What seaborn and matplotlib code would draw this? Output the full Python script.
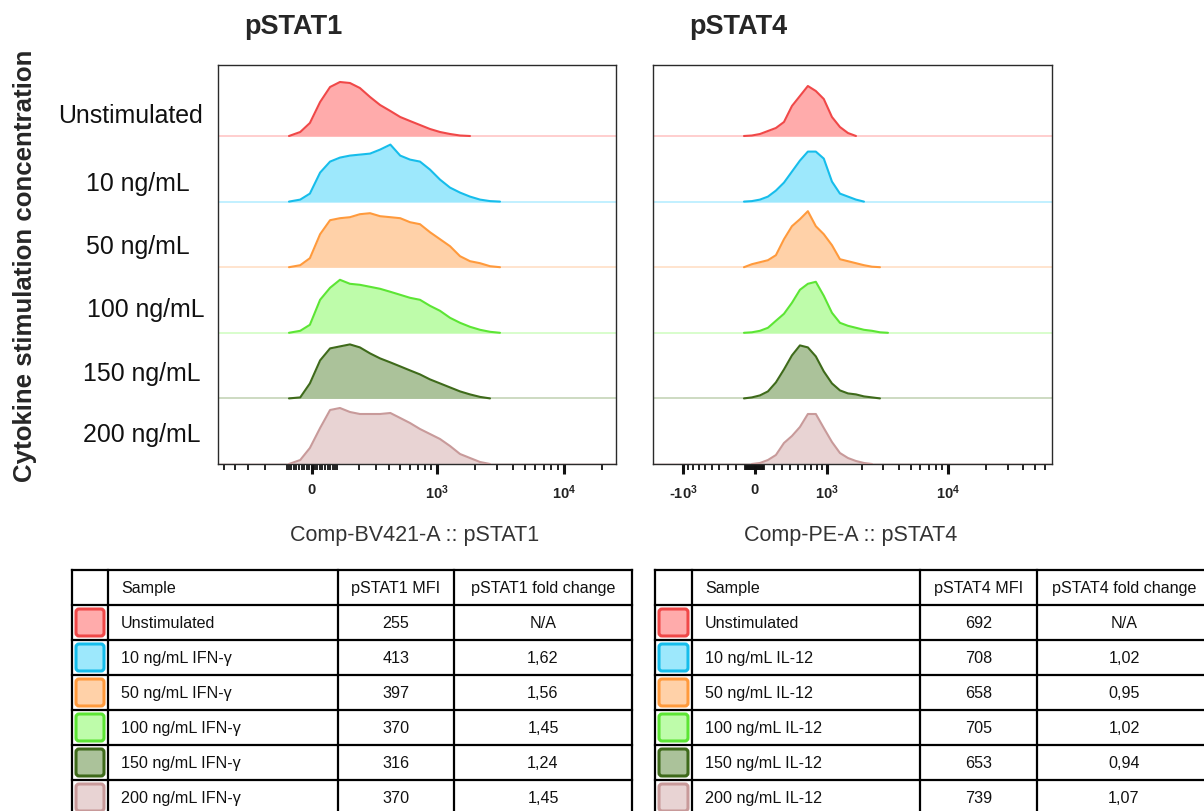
import numpy as np
import matplotlib
matplotlib.use("Agg")
import matplotlib.pyplot as plt
import seaborn as sns
from matplotlib.patches import FancyBboxPatch

# ---------------- data ----------------
row_labels = ["Unstimulated", "10 ng/mL", "50 ng/mL", "100 ng/mL", "150 ng/mL", "200 ng/mL"]

# pSTAT1 (Comp-BV421-A) histogram bin centres and counts (normalised to mode)
stat1_bins = [-90, -45, -8, 31, 70, 111, 156, 206, 264, 330, 409, 498, 602, 728,
              878, 1057, 1271, 1527, 1832, 2199, 2636, 3160]
stat1_unstim = [0, 4, 13, 34, 49, 54, 53, 48, 39, 31, 25, 19, 15, 11, 7, 4, 2, 0.5, 0, 0, 0, 0]
stat1_10 = [0, 2, 8, 29, 40, 44, 46, 47, 48, 52, 57, 46, 42, 40, 32, 22, 14, 9, 5, 2, 0.5, 0]
stat1_50 = [0, 2, 9, 33, 47, 49, 50, 53, 54, 51, 50, 49, 45, 43, 35, 28, 21, 11, 6, 4, 1, 0]
stat1_100 = [0, 2, 8, 33, 45, 53, 49, 48, 46, 44, 41, 38, 35, 33, 27, 22, 15, 10, 6, 3, 1, 0]
stat1_150 = [0, 1, 15, 38, 50, 52, 54, 51, 45, 40, 36, 32, 28, 24, 19, 15, 11, 7, 4, 1.5, 0, 0]
stat1_200 = [0, 4, 16, 36, 54, 56, 52, 50, 50, 50, 51, 46, 41, 35, 30, 25, 18, 10, 6, 2, 0, 0]

# pSTAT4 (Comp-PE-A) histogram bin centres and counts
stat4_bins = [-116, -32, 53, 138, 226, 320, 420, 529, 649, 783, 934, 1110, 1306, 1531,
              1790, 2087, 2430, 2825, 3282]
stat4_unstim = [0, 0.5, 2, 5, 8, 14, 30, 40, 50, 45, 37, 19, 9, 3, 0, 0, 0, 0, 0]
stat4_10 = [0, 0.5, 2, 5, 11, 19, 30, 41, 50, 50, 43, 20, 8, 5, 2, 0, 0, 0, 0]
stat4_50 = [0, 3, 5, 7, 12, 28, 41, 48, 56, 41, 33, 22, 8, 6, 4, 2, 0.5, 0, 0]
stat4_100 = [0, 0.5, 2, 5, 12, 19, 30, 43, 49, 51, 37, 20, 10, 7, 5, 3, 2, 0.5, 0]
stat4_150 = [0, 1, 3, 7, 16, 29, 43, 53, 51, 42, 27, 15, 8, 5, 4, 2, 1, 0, 0]
stat4_200 = [0, 0, 1, 4, 9, 21, 28, 37, 50, 50, 36, 22, 11, 6, 3, 1, 0, 0, 0]

# summary tables
stat1_samples = ["Unstimulated", "10 ng/mL IFN-γ", "50 ng/mL IFN-γ", "100 ng/mL IFN-γ",
                 "150 ng/mL IFN-γ", "200 ng/mL IFN-γ"]
stat1_mfi = [255, 413, 397, 370, 316, 370]
stat4_samples = ["Unstimulated", "10 ng/mL IL-12", "50 ng/mL IL-12", "100 ng/mL IL-12",
                 "150 ng/mL IL-12", "200 ng/mL IL-12"]
stat4_mfi = [692, 708, 658, 705, 653, 739]

# ---------------- style ----------------
edge_colors = ["#F04848", "#16BDEB", "#FF9A3C", "#5CE534", "#3E6A1A", "#C89A9A"]
fill_colors = ["#FFABAB", "#9DE8FC", "#FFD1A8", "#BEFCAA", "#ABC29A", "#E8D3D3"]
base_colors = ["#FFCACA", "#BDEFFF", "#FFE2CA", "#D6FDC8", "#C9D8BD", "#EFE0E0"]

sns.set_theme(style="white")
plt.rcParams["font.family"] = ["Liberation Sans", "DejaVu Sans"]
plt.rcParams["mathtext.fontset"] = "custom"
plt.rcParams["mathtext.rm"] = "Liberation Sans"
plt.rcParams["mathtext.bf"] = "Liberation Sans:bold"

W, H = 1204, 812
fig = plt.figure(figsize=(W / 100, H / 100), dpi=100)
fig.patch.set_facecolor("white")

# overlay axes in pixel units for labels and tables
ov = fig.add_axes([0, 0, 1, 1])
ov.set_xlim(0, W)
ov.set_ylim(H, 0)
ov.set_axis_off()
ov.set_facecolor("none")


def px_axes(x0, y0, x1, y1):
    return fig.add_axes([x0 / W, 1 - y1 / H, (x1 - x0) / W, (y1 - y0) / H])


ROW = 65.6
TOP = 5 * ROW + 71


def biex(width):
    fwd = lambda v: np.arcsinh(np.asarray(v, dtype=float) / width)
    inv = lambda u: width * np.sinh(np.asarray(u, dtype=float))
    return fwd, inv


def minor_list(lo, hi):
    vals = []
    for dec in (10, 100, 1000, 10000):
        for k in range(1, 10):
            v = k * dec
            if v in (1000, 10000):
                continue
            for s in (-v, v):
                if lo < s < hi:
                    vals.append(s)
    return sorted(vals)


def draw_panel(ax, bins, curves, width, xlim, majors, major_labels):
    fwd, inv = biex(width)
    ax.set_xscale("function", functions=(fwd, inv))
    ax.set_xlim(*xlim)
    ax.set_ylim(0, TOP)
    bins = np.asarray(bins, dtype=float)
    for i, counts in enumerate(curves):
        base = (5 - i) * ROW
        h = np.asarray(counts, dtype=float)
        ax.axhline(base, color=base_colors[i], lw=1.3, zorder=1)
        nz = np.nonzero(h)[0]
        lo, hi = max(nz[0] - 1, 0), min(nz[-1] + 1, len(h) - 1)
        x = bins[lo:hi + 1]
        y = base + h[lo:hi + 1]
        ax.fill_between(x, base, y, color=fill_colors[i], lw=0, zorder=2)
        sns.lineplot(x=x, y=y, color=edge_colors[i], lw=1.5, ax=ax, sort=False,
                     zorder=3, estimator=None)
    ax.set_xticks(majors)
    ax.set_xticklabels(major_labels)
    ax.set_xticks(minor_list(*xlim), minor=True)
    ax.set_yticks([])
    ax.set_xlabel("")
    ax.set_ylabel("")
    ax.tick_params(axis="x", which="major", direction="out", length=7, width=2.2,
                   bottom=True, color="#111", pad=6, labelsize=10.5, labelcolor="#222")
    ax.tick_params(axis="x", which="minor", direction="out", length=4, width=1.3,
                   bottom=True, color="#111")
    for lab in ax.get_xticklabels():
        lab.set_fontweight("bold")
    for sp in ax.spines.values():
        sp.set_color("#2a2a2a")
        sp.set_linewidth(1.0)


ax1 = px_axes(218, 66, 616, 465)
draw_panel(ax1, stat1_bins,
           [stat1_unstim, stat1_10, stat1_50, stat1_100, stat1_150, stat1_200],
           210, (-557, 25870), [0, 1000, 10000],
           ["0", r"$\mathbf{10^{3}}$", r"$\mathbf{10^{4}}$"])

ax2 = px_axes(653, 66, 1052, 465)
draw_panel(ax2, stat4_bins,
           [stat4_unstim, stat4_10, stat4_50, stat4_100, stat4_150, stat4_200],
           571, (-1822, 67800), [-1000, 0, 1000, 10000],
           [r"-$\mathbf{10^{3}}$", "0", r"$\mathbf{10^{3}}$", r"$\mathbf{10^{4}}$"])

# titles, axis labels
ov.text(293, 34.5, "pSTAT1", fontsize=19.5, fontweight="bold", ha="center", va="baseline")
ov.text(738, 34.5, "pSTAT4", fontsize=19.5, fontweight="bold", ha="center", va="baseline")
ov.text(415, 541, "Comp-BV421-A :: pSTAT1", fontsize=15.5, color="#333",
        ha="center", va="baseline")
ov.text(851, 541, "Comp-PE-A :: pSTAT4", fontsize=15.5, color="#333",
        ha="center", va="baseline")
ov.text(32, 266, "Cytokine stimulation concentration", fontsize=18.6, fontweight="bold",
        rotation=90, rotation_mode="anchor", ha="center", va="baseline")

row_label_x = [130, 138, 138, 146, 142, 142]
row_label_y = [123, 191, 254, 317, 381, 442]
for lab, x, y in zip(row_labels, row_label_x, row_label_y):
    ov.text(x, y, lab, fontsize=17.9, ha="center", va="baseline", color="#111")


# ---------------- tables ----------------
def draw_table(cols, marker, samples, mfi):
    top, rh = 571, 35
    n_rows = len(samples) + 1
    ys = [top + k * rh for k in range(n_rows + 1)]
    for y in ys:
        ov.plot([cols[0], cols[-1]], [y, y], color="black", lw=1.6,
                solid_capstyle="projecting", zorder=3)
    for x in cols:
        ov.plot([x, x], [ys[0], ys[-1]], color="black", lw=1.6,
                solid_capstyle="projecting", zorder=3)
    fs = 11.6
    cy = top + rh / 2 + 5
    ov.text(cols[1] + 13, cy, "Sample", fontsize=fs, va="baseline", color="#111")
    ov.text((cols[2] + cols[3]) / 2, cy, f"{marker} MFI", fontsize=fs, ha="center",
            va="baseline", color="#111")
    ov.text((cols[3] + cols[4]) / 2, cy, f"{marker} fold change", fontsize=fs,
            ha="center", va="baseline", color="#111")
    for i, (name, val) in enumerate(zip(samples, mfi)):
        y0 = top + (i + 1) * rh
        ty = y0 + rh / 2 + 5
        fold = "N/A" if i == 0 else f"{val / mfi[0]:.2f}".replace(".", ",")
        ov.add_patch(FancyBboxPatch((cols[0] + 4, y0 + 4), cols[1] - cols[0] - 8, rh - 8,
                                    boxstyle="round,pad=0,rounding_size=3",
                                    fc=fill_colors[i], ec=edge_colors[i], lw=2.2, zorder=2))
        ov.text(cols[1] + 13, ty, name, fontsize=fs, va="baseline", color="#111")
        ov.text((cols[2] + cols[3]) / 2, ty, str(val), fontsize=fs, ha="center",
                va="baseline", color="#111")
        ov.text((cols[3] + cols[4]) / 2, ty, fold, fontsize=fs, ha="center",
                va="baseline", color="#111")


draw_table([72, 108, 338, 454, 632], "pSTAT1", stat1_samples, stat1_mfi)
draw_table([655, 692, 920, 1037, 1211], "pSTAT4", stat4_samples, stat4_mfi)

fig.savefig("out.png", dpi=100, facecolor="white")
